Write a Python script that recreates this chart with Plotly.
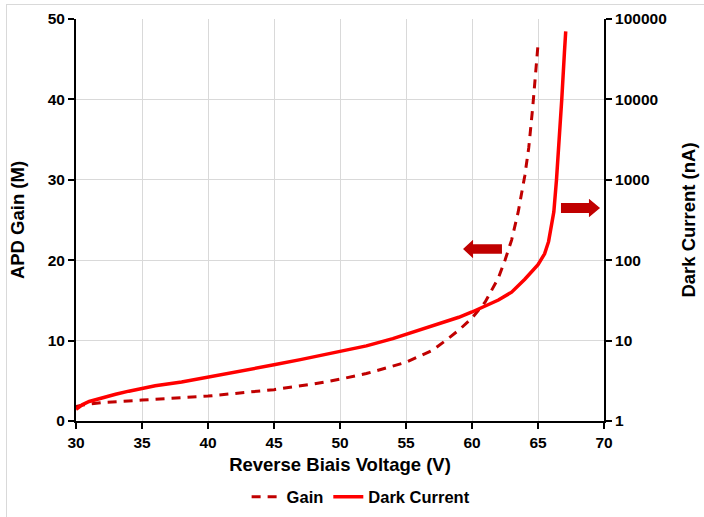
import plotly.graph_objects as go

# ---- data ----
gain_v = [30, 30.5, 31, 32, 35, 40, 45, 48, 50, 52, 55, 57, 58, 59, 60, 61, 62, 62.5, 63, 63.5, 64, 64.3, 64.6, 64.8, 65.0]
gain_m = [1.8, 2.0, 2.1, 2.3, 2.6, 3.1, 3.9, 4.6, 5.2, 5.9, 7.3, 8.8, 10.0, 11.3, 12.8, 14.8, 17.8, 20, 22.5, 26, 30.5, 34, 39, 43, 46.8]

dark_v = [30.0, 30.5, 31, 32, 33, 34, 35, 36, 38, 40, 42, 44, 45, 47, 50, 52, 54, 55, 57, 59, 60, 61, 62, 63, 64, 65, 65.5, 65.8, 66.0, 66.2, 66.4, 66.6, 66.8, 67.0, 67.1]
dark_na = [1.4, 1.6, 1.75, 1.95, 2.15, 2.35, 2.55, 2.75, 3.05, 3.5, 4.0, 4.6, 5.0, 5.8, 7.3, 8.6, 10.6, 12.0, 15.0, 19.5, 22.7, 27, 32, 40, 58, 88, 120, 170, 250, 400, 1000, 2800, 10000, 38000, 70000]

x_ticks = [30, 35, 40, 45, 50, 55, 60, 65, 70]
gain_ticks = [0, 10, 20, 30, 40, 50]
dark_ticks = [1, 10, 100, 1000, 10000, 100000]
dark_labels = ["1", "10", "100", "1000", "10000", "100000"]

GAIN_COLOR = "#C00000"
DARK_COLOR = "#FF0000"
FONT = "Liberation Sans, Arial, sans-serif"

fig = go.Figure()
fig.add_trace(go.Scatter(x=gain_v, y=gain_m, name="Gain", mode="lines",
                         line=dict(color=GAIN_COLOR, width=3, dash="9px,7px")))
fig.add_trace(go.Scatter(x=dark_v, y=dark_na, name="Dark Current", mode="lines",
                         yaxis="y2", line=dict(color=DARK_COLOR, width=3.5)))

# arrows (decorations) in data coords of x / y
def arrow_path(x_tip, x_neck, x_tail, yc, shaft, head):
    return (f"M {x_tip},{yc} L {x_neck},{yc+head} L {x_neck},{yc+shaft} L {x_tail},{yc+shaft} "
            f"L {x_tail},{yc-shaft} L {x_neck},{yc-shaft} L {x_neck},{yc-head} Z")

shapes = [
    dict(type="path", xref="x", yref="y", path=arrow_path(59.32, 60.08, 62.27, 21.39, 0.58, 1.15),
         fillcolor=GAIN_COLOR, line=dict(width=0)),
    dict(type="path", xref="x", yref="y", path=arrow_path(69.70, 68.86, 66.74, 26.49, 0.62, 1.15),
         fillcolor=GAIN_COLOR, line=dict(width=0)),
    # screenshot frame lines
    dict(type="line", xref="paper", yref="paper", x0=(6-76)/528, x1=(704-76)/528,
         y0=(421-4.5)/402, y1=(421-4.5)/402, line=dict(color="#D9D9D9", width=1)),
    dict(type="line", xref="paper", yref="paper", x0=(6.5-76)/528, x1=(6.5-76)/528,
         y0=(421-4.5)/402, y1=(421-517)/402, line=dict(color="#D9D9D9", width=1)),
]

axis_font = dict(family=FONT, size=15.5, color="#000000", weight="bold")
title_font = dict(family=FONT, size=18.5, color="#000000", weight="bold")

fig.update_layout(
    width=704, height=517,
    margin=dict(l=76, r=100, t=19, b=96, autoexpand=False),
    paper_bgcolor="white", plot_bgcolor="white",
    font=dict(family=FONT, weight="bold"),
    shapes=shapes,
    showlegend=True,
    legend=dict(orientation="h", x=0.54, xanchor="center", y=(421-497)/402, yanchor="middle",
                font=dict(family=FONT, size=16.5, color="#000000", weight="bold"),
                itemwidth=30, tracegroupgap=0, bgcolor="rgba(0,0,0,0)"),
    xaxis=dict(range=[30, 70], tickvals=x_ticks, showgrid=True, gridcolor="#D9D9D9", gridwidth=1,
               showline=True, linecolor="#000000", linewidth=2, ticks="outside", ticklen=6,
               tickwidth=2, tickcolor="#000000", tickfont=axis_font, zeroline=False,
               title=dict(text="Reverse Biais Voltage (V)", font=title_font, standoff=8)),
    yaxis=dict(range=[0, 50], tickvals=gain_ticks, showgrid=True, gridcolor="#D9D9D9", gridwidth=1,
               showline=True, linecolor="#000000", linewidth=2, ticks="outside", ticklen=6,
               tickwidth=2, tickcolor="#000000", tickfont=axis_font, zeroline=False,
               title=dict(text="APD Gain (M)", font=title_font, standoff=18)),
    yaxis2=dict(type="log", range=[0, 5], overlaying="y", side="right", tickvals=dark_ticks,
                ticktext=dark_labels, showgrid=False, showline=True, linecolor="#000000",
                linewidth=2, ticks="outside", ticklen=6, tickwidth=2, tickcolor="#000000",
                tickfont=axis_font, zeroline=False,
                title=dict(text="Dark Current (nA)", font=title_font, standoff=16)),
)

fig.write_html("out.html")
